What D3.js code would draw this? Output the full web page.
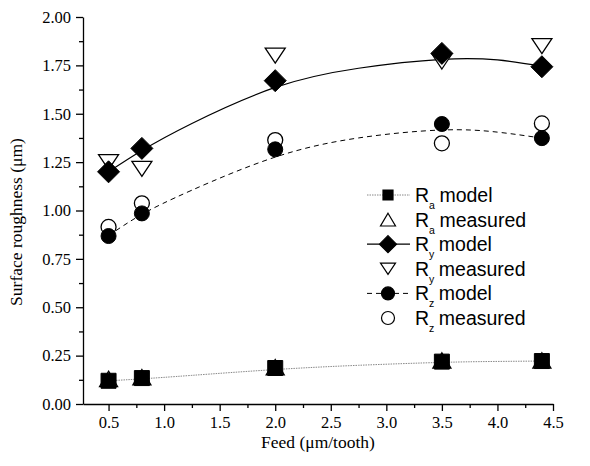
<!DOCTYPE html>
<html>
<head>
<meta charset="utf-8">
<script src="https://cdn.jsdelivr.net/npm/d3@7"></script>
<style>
  body { margin: 0; background: #fff; }
  svg { display: block; }
</style>
</head>
<body>
<div id="chart"></div>
<script>
// feed values (um/tooth) where roughness was computed / measured
var feed = [0.5, 0.8, 2.0, 3.5, 4.4];
var raModel = [0.12, 0.134, 0.186, 0.219, 0.222];
var raMeasured = [0.13, 0.138, 0.19, 0.225, 0.225];
var ryModel = [1.20, 1.321, 1.671, 1.812, 1.743];
var ryMeasured = [1.25, 1.215, 1.80, 1.77, 1.85];
var rzModel = [0.868, 0.985, 1.316, 1.447, 1.374];
var rzMeasured = [0.915, 1.037, 1.364, 1.347, 1.45];

// fitted curves
var fitFeed = [0.5, 0.8, 1.25, 2.0, 2.75, 3.5, 4.0, 4.4];
var raFit = [0.12, 0.13, 0.148, 0.178, 0.2, 0.215, 0.22, 0.222];
var ryFit = [1.20, 1.31, 1.45, 1.636, 1.735, 1.781, 1.778, 1.745];
var rzFit = [0.87, 0.98, 1.105, 1.276, 1.375, 1.416, 1.405, 1.374];

var xTicks = [0.5, 1.0, 1.5, 2.0, 2.5, 3.0, 3.5, 4.0, 4.5];
var yTicks = [0, 0.25, 0.5, 0.75, 1.0, 1.25, 1.5, 1.75, 2.0];

var svgWidth = 590, svgHeight = 466;
var margin = {top: 17, right: 37, bottom: 62, left: 83};
var width = svgWidth - margin.left - margin.right;
var height = svgHeight - margin.top - margin.bottom;

var svgBG = d3.select("#chart").append("svg")
    .attr("width", svgWidth)
    .attr("height", svgHeight);
var svg = svgBG.append("g")
    .attr("transform", "translate(" + margin.left + "," + margin.top + ")");

var x = d3.scaleLinear().domain([0.27, 4.5]).range([0, width]);
var y = d3.scaleLinear().domain([0, 2]).range([height, 0]);

var serif = "'Liberation Serif', 'Times New Roman', serif";
var sans = "'Liberation Sans', Arial, sans-serif";

// minor ticks first, then major axes with labels
var xMinor = d3.range(0.75, 4.5, 0.5);
var yMinor = d3.range(0.125, 2, 0.25);

svg.append("g")
    .attr("transform", "translate(0," + height + ")")
    .call(d3.axisBottom(x).tickValues(xMinor).tickSize(4).tickFormat(""))
    .call(function(g){ g.select(".domain").remove(); });
svg.append("g")
    .call(d3.axisLeft(y).tickValues(yMinor).tickSize(4).tickFormat(""))
    .call(function(g){ g.select(".domain").remove(); });

var xAxis = svg.append("g")
    .attr("transform", "translate(0," + height + ")")
    .call(d3.axisBottom(x).tickValues(xTicks).tickSize(7).tickSizeOuter(0).tickPadding(5)
        .tickFormat(d3.format(".1f")));
var yAxis = svg.append("g")
    .call(d3.axisLeft(y).tickValues(yTicks).tickSize(7).tickSizeOuter(0).tickPadding(5)
        .tickFormat(d3.format(".2f")));

svg.selectAll(".tick text")
    .style("font-family", serif)
    .style("font-size", "16.5px")
    .attr("fill", "#000");
svg.selectAll(".domain, .tick line").attr("stroke", "#000").attr("stroke-width", 1.3);

svgBG.append("text")
    .attr("x", margin.left + width / 2)
    .attr("y", 448)
    .attr("text-anchor", "middle")
    .style("font-family", serif)
    .style("font-size", "17.5px")
    .text("Feed (\u03bcm/tooth)");

svgBG.append("text")
    .attr("transform", "translate(22," + 222 + ") rotate(-90)")
    .attr("text-anchor", "middle")
    .style("font-family", serif)
    .style("font-size", "17.5px")
    .text("Surface roughness (\u03bcm)");

// custom marker shapes; size = half width
var shapes = {
    square: function(p, r){ p.rect(-r, -r, 2*r, 2*r); },
    diamond: function(p, r){ p.moveTo(0,-r); p.lineTo(r,0); p.lineTo(0,r); p.lineTo(-r,0); p.closePath(); },
    up: function(p, r){ var h = r*0.85; p.moveTo(0,-h); p.lineTo(r,h); p.lineTo(-r,h); p.closePath(); },
    down: function(p, r){ var h = r*0.75; p.moveTo(0,h); p.lineTo(r,-h); p.lineTo(-r,-h); p.closePath(); },
    circle: function(p, r){ p.moveTo(r,0); p.arc(0,0,r,0,2*Math.PI); p.closePath(); }
};
function markerPath(shape, r){
    var p = d3.path();
    shapes[shape](p, r);
    return p.toString();
}

var series = [
    {name: "a", label: "model", vals: raModel, shape: "square", r: 7.5, lr: 5, filled: true,
        fit: raFit, stroke: "#888", dash: "1.5,1", lw: 1},
    {name: "a", label: "measured", vals: raMeasured, shape: "up", r: 9, lr: 7.5, filled: false},
    {name: "y", label: "model", vals: ryModel, shape: "diamond", r: 11, lr: 8.5, filled: true,
        fit: ryFit, stroke: "#000", dash: null, lw: 1.2},
    {name: "y", label: "measured", vals: ryMeasured, shape: "down", r: 10, lr: 7.5, filled: false},
    {name: "z", label: "model", vals: rzModel, shape: "circle", r: 7.5, lr: 6.5, filled: true,
        fit: rzFit, stroke: "#000", dash: "5,4", lw: 1},
    {name: "z", label: "measured", vals: rzMeasured, shape: "circle", r: 7.5, lr: 6.5, filled: false}
];

var line = d3.line()
    .x(function(d){ return x(d[0]); })
    .y(function(d){ return y(d[1]); })
    .curve(d3.curveNatural);

series.filter(function(s){ return s.fit; }).forEach(function(s){
    svg.append("path")
        .datum(fitFeed.map(function(f, i){ return [f, s.fit[i]]; }))
        .attr("d", line)
        .attr("fill", "none")
        .attr("stroke", s.stroke)
        .attr("stroke-width", s.lw)
        .attr("stroke-dasharray", s.dash);
});

function drawMarkers(s){
    svg.append("g").selectAll("path")
        .data(feed.map(function(f, i){ return [f, s.vals[i]]; }))
        .enter().append("path")
        .attr("transform", function(d){ return "translate(" + x(d[0]) + "," + y(d[1]) + ")"; })
        .attr("d", markerPath(s.shape, s.r))
        .attr("fill", s.filled ? "#000" : "#fff")
        .attr("stroke", "#000")
        .attr("stroke-width", s.filled ? 1 : 1.3);
}
// open (measured) markers under the filled (model) ones
series.filter(function(s){ return !s.filled; }).forEach(drawMarkers);
series.filter(function(s){ return s.filled; }).forEach(drawMarkers);

// legend
var legend = svgBG.append("g");
series.forEach(function(s, i){
    var base = 202 + i * 24.6;
    var cy = base - 7;
    if (s.fit) {
        legend.append("line")
            .attr("x1", 367).attr("x2", 410)
            .attr("y1", cy).attr("y2", cy)
            .attr("stroke", s.stroke)
            .attr("stroke-width", s.lw)
            .attr("stroke-dasharray", s.dash);
    }
    legend.append("path")
        .attr("transform", "translate(388," + cy + ")")
        .attr("d", markerPath(s.shape, s.lr))
        .attr("fill", s.filled ? "#000" : "#fff")
        .attr("stroke", "#000")
        .attr("stroke-width", 1.2);
    var t = legend.append("text")
        .attr("x", 415)
        .attr("y", base)
        .style("font-family", sans)
        .style("font-size", "19.5px");
    t.append("tspan").text("R");
    t.append("tspan").attr("dy", 7).style("font-size", "10.5px").text(s.name);
    t.append("tspan").attr("dy", -7).attr("dx", 4.5).text(s.label);
});
</script>
</body>
</html>
